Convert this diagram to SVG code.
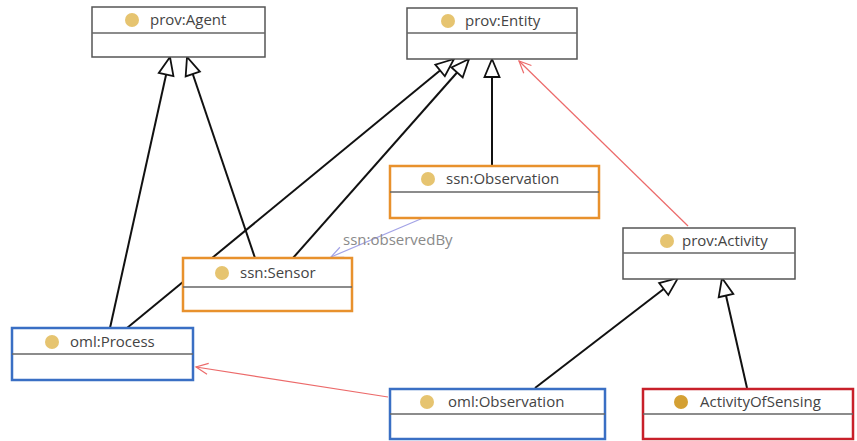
<svg xmlns="http://www.w3.org/2000/svg" xmlns:xlink="http://www.w3.org/1999/xlink" width="857" height="441" viewBox="0 0 857 441">
<defs>
<style>
.box{fill:#fff;stroke:#555;stroke-width:1.5}
.orange{stroke:#e8912d;stroke-width:2.5}
.blue{stroke:#3a6fc4;stroke-width:2.5}
.red{stroke:#c8202a;stroke-width:2.5}
.div{stroke:#666;stroke-width:1.3}
.lbl{font-family:"Open Sans","Liberation Sans",sans-serif;font-size:15px;fill:#444}
.dot{fill:#e6c470}
.gen{fill:none;stroke:#111;stroke-width:2}
.assoc{fill:none;stroke:#ec6a6a;stroke-width:1.2}
.obs{fill:none;stroke:#a3a3e6;stroke-width:1.2}
.elbl{font-family:"Open Sans","Liberation Sans",sans-serif;font-size:15px;fill:#8a8a8a}
.tri{fill:#fff;stroke:#111;stroke-width:1.8;stroke-linejoin:miter}
.vr{fill:none;stroke:#ec6a6a;stroke-width:1.2}
.vp{fill:none;stroke:#a3a3e6;stroke-width:1.2}
</style>
<path id="tri" d="M0,0 L-18,-7.5 L-18,7.5 Z"/>
<path id="vee" d="M-12,-5.5 L0,0 L-12,5.5"/>
</defs>
<rect width="857" height="441" fill="#fff"/>

<g id="connectors">
<line class="gen" x1="110" y1="328" x2="170" y2="57"/>
<use class="tri" href="#tri" xlink:href="#tri" transform="translate(170,57) rotate(-77.5)"/>
<line class="gen" x1="255" y1="258" x2="187" y2="57"/>
<use class="tri" href="#tri" xlink:href="#tri" transform="translate(187,57) rotate(-108.7)"/>
<line class="gen" x1="127" y1="328" x2="454" y2="59"/>
<use class="tri" href="#tri" xlink:href="#tri" transform="translate(454,59) rotate(-39.4)"/>
<line class="gen" x1="293" y1="258" x2="469" y2="59"/>
<use class="tri" href="#tri" xlink:href="#tri" transform="translate(469,59) rotate(-48.5)"/>
<line class="gen" x1="492" y1="166" x2="492" y2="59"/>
<use class="tri" href="#tri" xlink:href="#tri" transform="translate(492,59) rotate(-90)"/>
<line class="gen" x1="535" y1="388" x2="678" y2="278"/>
<use class="tri" href="#tri" xlink:href="#tri" transform="translate(678,278) rotate(-37.6)"/>
<line class="gen" x1="747" y1="388" x2="722" y2="278"/>
<use class="tri" href="#tri" xlink:href="#tri" transform="translate(722,278) rotate(-102.8)"/>
<line class="assoc" x1="688" y1="226" x2="519" y2="61"/>
<use class="vr" href="#vee" xlink:href="#vee" transform="translate(519,61) rotate(-135.7)"/>
<line class="assoc" x1="388" y1="397" x2="196" y2="367"/>
<use class="vr" href="#vee" xlink:href="#vee" transform="translate(196,367) rotate(-171.1)"/>
<line class="obs" x1="423" y1="218" x2="331" y2="257"/>
<use class="vp" href="#vee" xlink:href="#vee" transform="translate(331,257) rotate(157)"/>
<text class="elbl" x="343" y="245">ssn:observedBy</text>
</g>

<g id="prov-agent">
<rect class="box" x="92" y="7" width="173" height="50"/>
<line class="div" x1="92" y1="33" x2="265" y2="33"/>
<circle class="dot" cx="132" cy="20" r="7"/>
<text class="lbl" x="150" y="25">prov:Agent</text>
</g>

<g id="prov-entity">
<rect class="box" x="407" y="8" width="170" height="51"/>
<line class="div" x1="407" y1="33" x2="577" y2="33"/>
<circle class="dot" cx="448" cy="21" r="7"/>
<text class="lbl" x="465" y="26">prov:Entity</text>
</g>

<g id="ssn-observation">
<rect class="box orange" x="390" y="166" width="209" height="52"/>
<line class="div" x1="390" y1="192" x2="599" y2="192"/>
<circle class="dot" cx="428" cy="179" r="7"/>
<text class="lbl" x="446" y="184">ssn:Observation</text>
</g>

<g id="ssn-sensor">
<rect class="box orange" x="183" y="258" width="169" height="53"/>
<line class="div" x1="183" y1="287" x2="352" y2="287"/>
<circle class="dot" cx="222" cy="273" r="7"/>
<text class="lbl" x="240" y="278">ssn:Sensor</text>
</g>

<g id="prov-activity">
<rect class="box" x="623" y="228" width="172" height="51"/>
<line class="div" x1="623" y1="253" x2="795" y2="253"/>
<circle class="dot" cx="667" cy="241" r="7"/>
<text class="lbl" x="682" y="246">prov:Activity</text>
</g>

<g id="oml-process">
<rect class="box blue" x="12" y="328" width="181" height="52"/>
<line class="div" x1="12" y1="354" x2="193" y2="354"/>
<circle class="dot" cx="52" cy="342" r="7"/>
<text class="lbl" x="70" y="347">oml:Process</text>
</g>

<g id="oml-observation">
<rect class="box blue" x="390" y="389" width="215" height="50"/>
<line class="div" x1="390" y1="414" x2="605" y2="414"/>
<circle class="dot" cx="427" cy="402" r="7"/>
<text class="lbl" x="448" y="407">oml:Observation</text>
</g>

<g id="activity-of-sensing">
<rect class="box red" x="643" y="389" width="210" height="50"/>
<line class="div" x1="643" y1="414" x2="853" y2="414"/>
<circle cx="681" cy="402" r="7" fill="#d4a033"/>
<text class="lbl" x="700" y="407">ActivityOfSensing</text>
</g>
</svg>
